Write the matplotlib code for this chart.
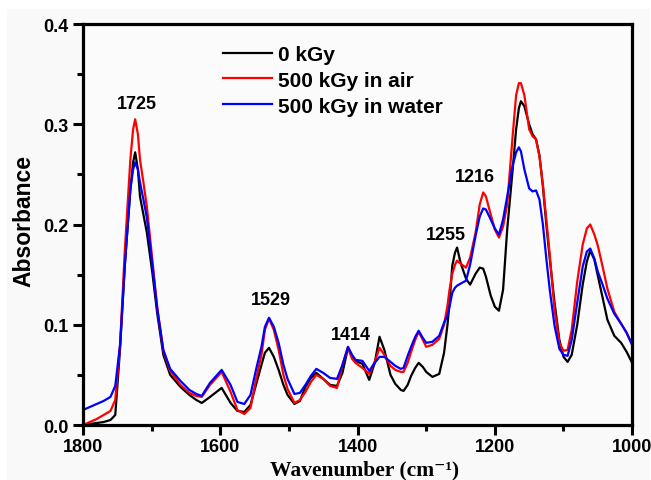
import matplotlib
matplotlib.use("Agg")
import matplotlib.pyplot as plt
from matplotlib.patches import Rectangle

wavenumber = [1800, 1790, 1780, 1770, 1760, 1753, 1746, 1739, 1731, 1727, 1724, 1720, 1717, 1712,
              1707, 1699, 1692, 1683, 1673, 1658, 1645, 1635, 1627, 1615, 1598, 1585, 1575, 1565,
              1556, 1548, 1540, 1535, 1529, 1522, 1515, 1508, 1502, 1492, 1484, 1476, 1468, 1460,
              1450, 1440, 1430, 1422, 1414, 1408, 1403, 1393, 1383, 1375, 1368, 1361, 1352, 1345,
              1337, 1333, 1327, 1322, 1316, 1311, 1305, 1300, 1291, 1281, 1274, 1269, 1266, 1262,
              1258, 1255, 1250, 1242, 1236, 1228, 1222, 1217, 1213, 1206, 1200, 1194, 1188, 1182,
              1174, 1169, 1165, 1162, 1157, 1150, 1145, 1140, 1135, 1130, 1125, 1120, 1113, 1106,
              1100, 1094, 1088, 1080, 1072, 1066, 1061, 1055, 1050, 1043, 1036, 1026, 1016, 1008, 1000]

abs_0kGy = [0.000, 0.001, 0.002, 0.003, 0.005, 0.010, 0.076, 0.160, 0.235, 0.262, 0.272, 0.255, 0.228, 0.210,
            0.192, 0.152, 0.112, 0.070, 0.050, 0.038, 0.030, 0.025, 0.022, 0.028, 0.037, 0.022, 0.014, 0.013,
            0.020, 0.040, 0.060, 0.072, 0.077, 0.068, 0.055, 0.040, 0.030, 0.021, 0.024, 0.038, 0.047, 0.052,
            0.046, 0.040, 0.039, 0.052, 0.077, 0.068, 0.064, 0.061, 0.045, 0.062, 0.088, 0.075, 0.050, 0.041,
            0.035, 0.034, 0.040, 0.049, 0.057, 0.062, 0.058, 0.053, 0.048, 0.051, 0.072, 0.100, 0.122, 0.159,
            0.172, 0.177, 0.162, 0.146, 0.140, 0.151, 0.157, 0.156, 0.148, 0.129, 0.118, 0.114, 0.135, 0.195,
            0.255, 0.295, 0.316, 0.323, 0.318, 0.300, 0.290, 0.285, 0.269, 0.238, 0.200, 0.166, 0.122, 0.085,
            0.068, 0.063, 0.070, 0.100, 0.140, 0.163, 0.174, 0.165, 0.149, 0.127, 0.105, 0.089, 0.082, 0.073, 0.062]

abs_air = [0.000, 0.003, 0.006, 0.010, 0.014, 0.025, 0.080, 0.175, 0.265, 0.295, 0.305, 0.290, 0.265, 0.242,
           0.218, 0.165, 0.118, 0.074, 0.054, 0.040, 0.032, 0.029, 0.028, 0.040, 0.053, 0.033, 0.015, 0.011,
           0.017, 0.045, 0.070, 0.095, 0.106, 0.095, 0.075, 0.050, 0.036, 0.022, 0.025, 0.033, 0.043, 0.050,
           0.046, 0.039, 0.037, 0.060, 0.077, 0.066, 0.062, 0.057, 0.051, 0.063, 0.077, 0.070, 0.059, 0.055,
           0.053, 0.053, 0.062, 0.073, 0.085, 0.093, 0.085, 0.078, 0.080, 0.086, 0.100, 0.119, 0.135, 0.151,
           0.160, 0.164, 0.161, 0.157, 0.167, 0.192, 0.220, 0.232, 0.228, 0.210, 0.195, 0.187, 0.198, 0.220,
           0.289, 0.329, 0.341, 0.341, 0.329, 0.295, 0.288, 0.285, 0.268, 0.240, 0.205, 0.170, 0.115, 0.082,
           0.074, 0.075, 0.095, 0.143, 0.180, 0.196, 0.200, 0.190, 0.179, 0.158, 0.136, 0.113, 0.101, 0.092, 0.080]

abs_water = [0.015, 0.018, 0.021, 0.024, 0.028, 0.039, 0.080, 0.160, 0.235, 0.255, 0.262, 0.255, 0.242, 0.225,
             0.207, 0.160, 0.117, 0.075, 0.056, 0.044, 0.035, 0.031, 0.029, 0.042, 0.055, 0.040, 0.023, 0.021,
             0.030, 0.055, 0.078, 0.098, 0.107, 0.098, 0.082, 0.060, 0.046, 0.031, 0.032, 0.040, 0.049, 0.056,
             0.052, 0.047, 0.046, 0.060, 0.078, 0.070, 0.065, 0.064, 0.054, 0.062, 0.068, 0.068, 0.063, 0.059,
             0.056, 0.057, 0.069, 0.078, 0.088, 0.094, 0.087, 0.082, 0.083, 0.089, 0.102, 0.109, 0.118, 0.132,
             0.137, 0.139, 0.141, 0.144, 0.160, 0.189, 0.208, 0.216, 0.215, 0.205, 0.196, 0.190, 0.205, 0.228,
             0.259, 0.272, 0.277, 0.273, 0.255, 0.236, 0.233, 0.234, 0.225, 0.200, 0.166, 0.135, 0.099, 0.076,
             0.070, 0.069, 0.085, 0.122, 0.158, 0.173, 0.176, 0.166, 0.153, 0.140, 0.126, 0.111, 0.101, 0.092, 0.080]

series_labels = ["0 kGy", "500 kGy in air", "500 kGy in water"]
series_colors = ["#000000", "#ff0000", "#0000ff"]

peak_labels = ["1725", "1529", "1414", "1255", "1216"]
peak_x = [1721, 1527, 1410, 1271, 1229]
peak_y = [0.321, 0.125, 0.090, 0.190, 0.248]

x_ticks = [1800, 1600, 1400, 1200, 1000]
y_ticks = [0.0, 0.1, 0.2, 0.3, 0.4]

plt.rcParams['font.family'] = ['Liberation Sans', 'DejaVu Sans']

fig = plt.figure(figsize=(6.51, 4.81), dpi=100)
fig.patches.append(Rectangle((0.011, 0.0), 0.988, 0.979, transform=fig.transFigure,
                             facecolor='#f9f9f9', edgecolor='none', zorder=-10))
ax = fig.add_axes([0.1275, 0.1143, 0.8435, 0.8337])
ax.set_facecolor('#fbfbfb')

for vals, lab, col in zip([abs_0kGy, abs_air, abs_water], series_labels, series_colors):
    ax.plot(wavenumber, vals, color=col, lw=1.6, label=lab)

for lab, px, py in zip(peak_labels, peak_x, peak_y):
    ax.text(px, py, lab, ha='center', va='center', fontsize=13, fontweight='bold')

ax.set_xlim(1800, 1000)
ax.set_ylim(0, 0.4)
ax.set_xticks(x_ticks)
ax.set_yticks(y_ticks)
ax.set_xticks([1700, 1500, 1300, 1100], minor=True)
ax.set_yticks([0.05, 0.15, 0.25, 0.35], minor=True)
ax.set_xticklabels([str(v) for v in x_ticks])
ax.set_yticklabels([f"{v:.1f}" for v in y_ticks])
for lbl in ax.get_xticklabels() + ax.get_yticklabels():
    lbl.set_fontweight('bold')
    lbl.set_fontsize(13)

ax.tick_params(axis='both', which='major', direction='out', length=7, width=2.2, top=False, right=False)
ax.tick_params(axis='both', which='minor', direction='out', length=4.5, width=2.2, top=False, right=False)
ax.tick_params(axis='y', pad=3.5)
ax.tick_params(axis='x', pad=2.5)
for sp in ax.spines.values():
    sp.set_linewidth(2.3)

fig.text(24 / 651, 1 - 221 / 481, "Absorbance", rotation=90, ha='center', va='center',
         fontsize=16.5, fontweight='bold')
fig.text(365 / 651, 6 / 481, "Wavenumber (cm\u207b\u00b9)", ha='center', va='baseline',
         fontsize=15.5, fontweight='bold', family=['Liberation Serif', 'DejaVu Serif'])

leg = ax.legend(loc='upper left', bbox_to_anchor=(0.255, 0.948), frameon=False,
                borderaxespad=0, borderpad=0,
                handlelength=2.35, handletextpad=0.29, labelspacing=0.33,
                prop={'weight': 'bold', 'size': 15})
for h in leg.get_lines():
    h.set_linewidth(1.6)

fig.savefig("out.png", dpi=100, facecolor='white')
